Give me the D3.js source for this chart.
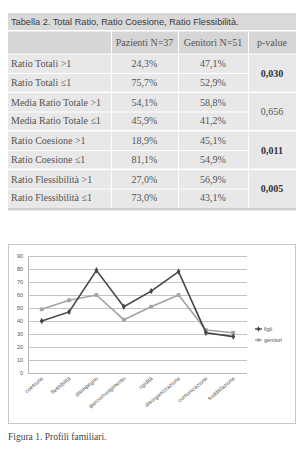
<!DOCTYPE html>
<html>
<head>
<meta charset="utf-8">
<script src="https://cdn.jsdelivr.net/npm/d3@7"></script>
<style>
  body { margin: 0; background: #fff; }
  svg { display: block; }
</style>
</head>
<body>
<svg id="fig" width="307" height="449"></svg>
<script>
"use strict"

// dati tabella
const tableTitle = "Tabella 2. Total Ratio, Ratio Coesione, Ratio Flessibilità."
const headers = ["", "Pazienti N=37", "Genitori N=51", "p-value"]
const rowLabels = ["Ratio Totali >1", "Ratio Totali \u22641", "Media Ratio Totale >1", "Media Ratio Totale \u22641",
  "Ratio Coesione >1", "Ratio Coesione \u22641", "Ratio Flessibilità >1", "Ratio Flessibilità \u22641"]
const pazienti = ["24,3%", "75,7%", "54,1%", "45,9%", "18,9%", "81,1%", "27,0%", "73,0%"]
const genitori = ["47,1%", "52,9%", "58,8%", "41,2%", "45,1%", "54,9%", "56,9%", "43,1%"]
const pValues = ["0,030", "0,656", "0,011", "0,005"]
const pBold = [true, false, true, true]

// dati grafico
const categories = ["coesione", "flessibilità", "disimpegno", "ipercoinvolgimento", "rigidità",
  "disorganizzazione", "comunicazione", "soddisfazione"]
const figli = [40, 47, 79, 51, 63, 78, 31, 28]
const genitoriSerie = [49, 56, 60, 41, 51, 60, 33, 31]
const yTicks = [0, 10, 20, 30, 40, 50, 60, 70, 80, 90]

const svg = d3.select("#fig")

/**
 * disegna la tabella in alto
 */
function drawTable() {
  const left = 8, right = 296
  const colX = [left, 111, 178, 248, right]
  const top = 13, titleH = 17, headH = 22, rowH = 18.5, gap = 0.5
  const g = svg.append("g")

  g.append("rect").attr("x", left).attr("y", top).attr("width", right - left).attr("height", titleH)
    .attr("fill", "#d9d9d9")
  g.append("text").attr("x", left + 3).attr("y", top + titleH / 2 + 3)
    .attr("font-family", "Liberation Sans, Arial, sans-serif").attr("font-size", 9.2)
    .attr("fill", "#3a3a3a").text(tableTitle)

  const headTop = top + titleH + 1.5
  for (let c = 0; c < 4; c++) {
    g.append("rect").attr("x", colX[c] + (c ? 1 : 0)).attr("y", headTop)
      .attr("width", colX[c + 1] - colX[c] - (c ? 1 : 0)).attr("height", headH)
      .attr("fill", "#d6d6d6")
    g.append("text").attr("x", (colX[c] + colX[c + 1]) / 2).attr("y", headTop + headH / 2 + 3.5)
      .attr("text-anchor", "middle")
      .attr("font-family", "Liberation Serif, Times New Roman, serif").attr("font-size", 10)
      .attr("fill", "#555").text(headers[c])
  }

  const bodyTop = headTop + headH + 1
  const groupH = rowH * 2
  for (let gi = 0; gi < 4; gi++) {
    const gy = bodyTop + gi * (groupH + 1.5)
    for (let r = 0; r < 2; r++) {
      const i = gi * 2 + r
      const ry = gy + r * rowH
      for (let c = 0; c < 3; c++) {
        g.append("rect").attr("x", colX[c] + (c ? 1 : 0)).attr("y", ry + (r ? 1 : 0))
          .attr("width", colX[c + 1] - colX[c] - (c ? 1 : 0)).attr("height", rowH - (r ? 1 : 0))
          .attr("fill", "#e8e8e8")
      }
      const ty = ry + rowH / 2 + 3.5
      g.append("text").attr("x", left + 3).attr("y", ty)
        .attr("font-family", "Liberation Serif, Times New Roman, serif").attr("font-size", 10)
        .attr("fill", "#555").text(rowLabels[i])
      g.append("text").attr("x", (colX[1] + colX[2]) / 2).attr("y", ty).attr("text-anchor", "middle")
        .attr("font-family", "Liberation Serif, Times New Roman, serif").attr("font-size", 10)
        .attr("fill", "#555").text(pazienti[i])
      g.append("text").attr("x", (colX[2] + colX[3]) / 2).attr("y", ty).attr("text-anchor", "middle")
        .attr("font-family", "Liberation Serif, Times New Roman, serif").attr("font-size", 10)
        .attr("fill", "#555").text(genitori[i])
    }
    g.append("rect").attr("x", colX[3] + 1).attr("y", gy).attr("width", colX[4] - colX[3] - 1)
      .attr("height", groupH).attr("fill", "#e8e8e8")
    g.append("text").attr("x", (colX[3] + colX[4]) / 2).attr("y", gy + groupH / 2 + 3.5)
      .attr("text-anchor", "middle")
      .attr("font-family", "Liberation Serif, Times New Roman, serif").attr("font-size", 10)
      .attr("font-weight", pBold[gi] ? "bold" : "normal")
      .attr("fill", pBold[gi] ? "#333" : "#555").text(pValues[gi])
  }
  const bottom = bodyTop + 4 * (groupH + 1.5) - 1
  g.append("rect").attr("x", left).attr("y", bottom).attr("width", right - left).attr("height", 3)
    .attr("fill", "#cfcfcf")
}

/**
 * disegna il grafico dei profili familiari
 */
function drawChart() {
  const frame = { x: 8, y: 244, w: 287, h: 179 }
  svg.append("rect").attr("x", frame.x + 0.5).attr("y", frame.y + 0.5)
    .attr("width", frame.w).attr("height", frame.h)
    .attr("fill", "#fff").attr("stroke", "#c8c8c8").attr("stroke-width", 1)

  const x = d3.scaleBand().domain(categories).range([28, 247])
  const y = d3.scaleLinear().domain([0, 90]).range([373, 256])
  const g = svg.append("g")

  // griglia
  g.append("g").selectAll("line").data(yTicks).join("line")
    .attr("x1", 28).attr("x2", 247)
    .attr("y1", d => Math.round(y(d)) + 0.5).attr("y2", d => Math.round(y(d)) + 0.5)
    .attr("stroke", d => d === 0 ? "#b8b8b8" : "#c4c4c4").attr("stroke-width", 1)
  g.append("line").attr("x1", 28.5).attr("x2", 28.5).attr("y1", y(90)).attr("y2", y(0))
    .attr("stroke", "#b8b8b8")

  const yAxis = g.append("g").attr("transform", "translate(28,0)")
    .call(d3.axisLeft(y).tickValues(yTicks).tickSize(0).tickPadding(5))
  yAxis.select(".domain").remove()
  yAxis.selectAll("text").attr("font-family", "Liberation Sans, Arial, sans-serif")
    .attr("font-size", 5.5).attr("fill", "#555")

  const xAxis = g.append("g").attr("transform", "translate(0,373)")
    .call(d3.axisBottom(x).tickSize(0).tickPadding(0))
  xAxis.select(".domain").remove()
  xAxis.selectAll("text")
    .attr("font-family", "Liberation Sans, Arial, sans-serif").attr("font-size", 5.5).attr("fill", "#555")
    .attr("text-anchor", "end").attr("dy", 0).attr("y", 0)
    .attr("transform", "translate(2,6) rotate(-40)")

  const cx = d => x(d) + x.bandwidth() / 2
  const line = d3.line().x(d => cx(d.cat)).y(d => y(d.val))

  const series = [
    { name: "genitori", values: genitoriSerie, color: "#a3a3a3", marker: "square" },
    { name: "figli", values: figli, color: "#454545", marker: "diamond" }
  ]
  series.forEach(s => {
    const pts = categories.map((c, i) => ({ cat: c, val: s.values[i] }))
    g.append("path").datum(pts).attr("d", line).attr("fill", "none")
      .attr("stroke", s.color).attr("stroke-width", 1.6)
    const sym = d3.symbol().type(s.marker === "square" ? d3.symbolSquare : d3.symbolDiamond)
      .size(s.marker === "square" ? 14 : 12)
    g.append("g").selectAll("path").data(pts).join("path")
      .attr("d", sym).attr("transform", d => `translate(${cx(d.cat)},${y(d.val)})`)
      .attr("fill", s.color)
  })

  // legenda
  const legend = [
    { name: "figli", color: "#454545", marker: "diamond", y: 329 },
    { name: "genitori", color: "#a3a3a3", marker: "square", y: 340 }
  ]
  legend.forEach(l => {
    g.append("line").attr("x1", 255).attr("x2", 262).attr("y1", l.y).attr("y2", l.y)
      .attr("stroke", l.color).attr("stroke-width", 1.4)
    g.append("path").attr("d", d3.symbol().type(l.marker === "square" ? d3.symbolSquare : d3.symbolDiamond).size(9))
      .attr("transform", `translate(258.5,${l.y})`).attr("fill", l.color)
    g.append("text").attr("x", 264).attr("y", l.y + 2)
      .attr("font-family", "Liberation Sans, Arial, sans-serif").attr("font-size", 5.5)
      .attr("fill", "#555").text(l.name)
  })

  svg.append("text").attr("x", 8).attr("y", 440)
    .attr("font-family", "Liberation Serif, Times New Roman, serif").attr("font-size", 9.5)
    .attr("fill", "#444").text("Figura 1. Profili familiari.")
}

drawTable()
drawChart()
</script>
</body>
</html>
